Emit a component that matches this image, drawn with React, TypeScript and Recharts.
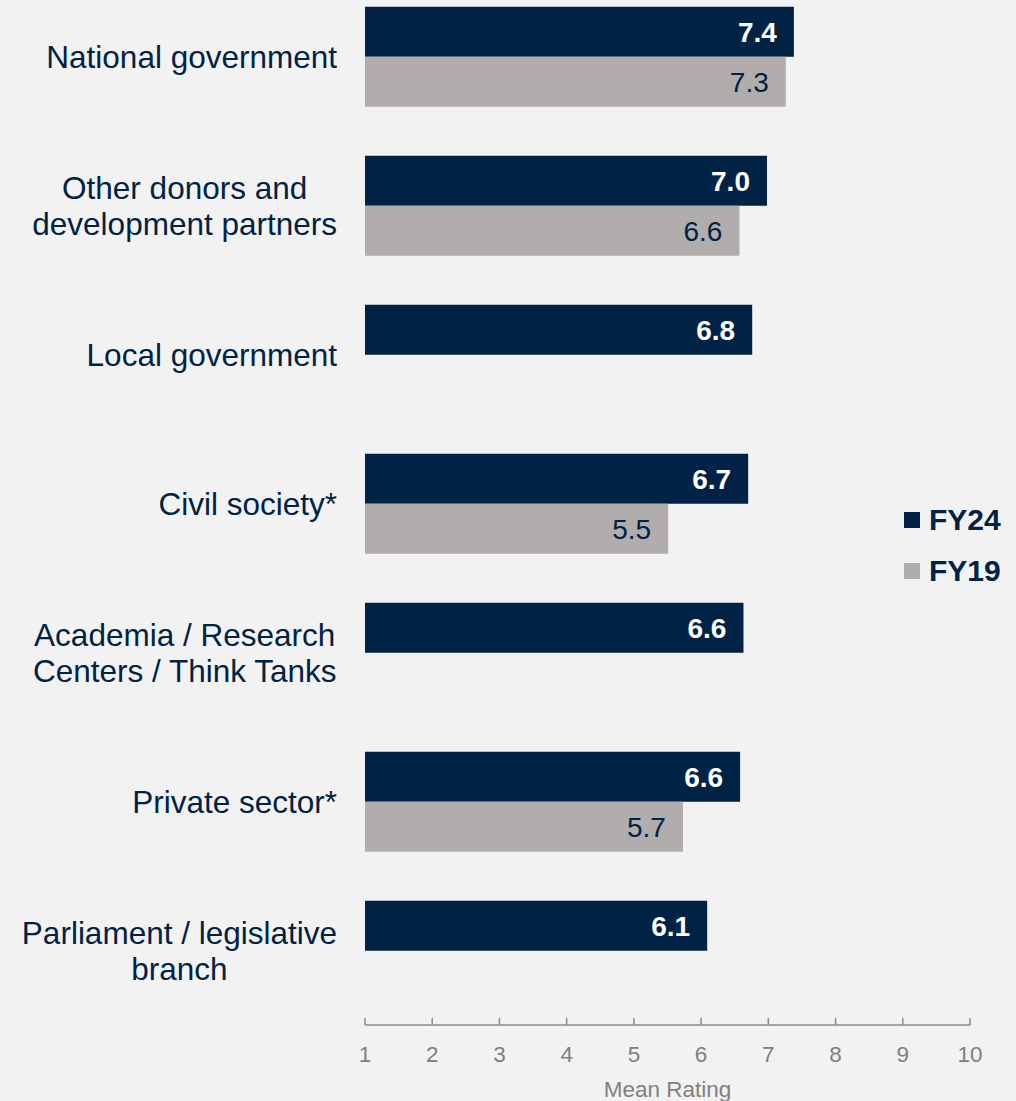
import { BarChart, Bar, XAxis, YAxis, Legend, LabelList } from 'recharts';

const categories = [
  'National government',
  'Other donors and\ndevelopment partners',
  'Local government',
  'Civil society*',
  'Academia / Research\nCenters / Think Tanks',
  'Private sector*',
  'Parliament / legislative\nbranch',
];
const seriesNames = ['FY24', 'FY19'];
const fy24 = [7.38, 6.98, 6.76, 6.7, 6.63, 6.58, 6.09];
const fy19 = [7.26, 6.57, null, 5.51, null, 5.73, null];
const xTicks = [1, 2, 3, 4, 5, 6, 7, 8, 9, 10];

const NAVY = '#002244';
const GREY = '#b1adac';
const FONT = '"Liberation Sans", Arial, sans-serif';

const data = categories.map((name, i) => ({ name, fy24: fy24[i], fy19: fy19[i] }));

let ctx: CanvasRenderingContext2D | null = null;
function textWidth(s: string, font: string) {
  if (!ctx) ctx = document.createElement('canvas').getContext('2d');
  if (!ctx) return s.length * 15;
  ctx.font = font;
  return ctx.measureText(s).width;
}

const fmt = (v: any) => (v == null ? '' : Number(v).toFixed(1));

function CategoryTick({ x, y, payload }: any) {
  const lines = String(payload.value).split('\n');
  const size = 31.5;
  const lh = 36;
  const maxW = Math.max(...lines.map((l) => textWidth(l, `${size}px ${FONT}`)));
  const cx = x - 28 - maxW / 2;
  const y0 = y - ((lines.length - 1) * lh) / 2 + size * 0.355;
  return (
    <text textAnchor="middle" fill={NAVY} fontSize={size} fontFamily={FONT}>
      {lines.map((l, i) => (
        <tspan key={i} x={cx} y={y0 + i * lh}>{l}</tspan>
      ))}
    </text>
  );
}

function RatingTick({ x, y, payload }: any) {
  return (
    <g>
      <line x1={x} x2={x} y1={y} y2={y - 7} stroke="#8a8a8a" strokeWidth={1.5} />
      <text x={x} y={y + 37} textAnchor="middle" fill="#808080" fontSize={22.5} fontFamily={FONT}>
        {payload.value}
      </text>
    </g>
  );
}

function LegendBox({ payload }: any) {
  const items = [...(payload || [])].sort(
    (a: any, b: any) => seriesNames.indexOf(a.value) - seriesNames.indexOf(b.value)
  );
  return (
    <div style={{ fontFamily: FONT }}>
      {items.map((p: any) => (
        <div key={p.value} style={{ display: 'flex', alignItems: 'center', height: 51 }}>
          <span style={{ width: 16, height: 16, background: p.color, marginRight: 9, display: 'inline-block' }} />
          <span style={{ color: NAVY, fontWeight: 'bold', fontSize: 30 }}>{p.value}</span>
        </div>
      ))}
    </div>
  );
}

export default function App() {
  return (
    <div style={{ position: 'relative', width: 1016, height: 1101, overflow: 'hidden', background: '#f2f2f2' }}>
      <style>{'body{margin:0;background:#f2f2f2}'}</style>
      <div style={{ position: 'absolute', top: -18, left: 0 }}>
        <BarChart
          width={1016}
          height={1119}
          data={data}
          layout="vertical"
          margin={{ top: 0, right: 46, bottom: 0, left: 0 }}
          barCategoryGap={24.75}
          barGap={0}
        >
          <XAxis
            type="number"
            domain={[1, 10]}
            ticks={xTicks}
            interval={0}
            height={76}
            tickSize={0}
            tickMargin={0}
            tickLine={false}
            axisLine={{ stroke: '#8a8a8a', strokeWidth: 1.5 }}
            tick={<RatingTick />}
            label={{ value: 'Mean Rating', position: 'insideBottom', offset: 4, fill: '#808080', fontSize: 22.5, fontFamily: FONT }}
          />
          <YAxis
            type="category"
            dataKey="name"
            width={365}
            tickSize={0}
            tickMargin={0}
            axisLine={false}
            tickLine={false}
            interval={0}
            tick={<CategoryTick />}
          />
          <Legend
            layout="vertical"
            align="center"
            verticalAlign="middle"
            wrapperStyle={{ left: 904, top: 512, width: 'auto' }}
            content={<LegendBox />}
          />
          <Bar dataKey="fy24" name={seriesNames[0]} fill={NAVY} isAnimationActive={false}>
            <LabelList dataKey="fy24" position="insideRight" offset={17} formatter={fmt}
              fill="#ffffff" fontSize={28} fontWeight="bold" fontFamily={FONT} />
          </Bar>
          <Bar dataKey="fy19" name={seriesNames[1]} fill={GREY} isAnimationActive={false}>
            <LabelList dataKey="fy19" position="insideRight" offset={17} formatter={fmt}
              fill={NAVY} fontSize={28} fontFamily={FONT} />
          </Bar>
        </BarChart>
      </div>
    </div>
  );
}
